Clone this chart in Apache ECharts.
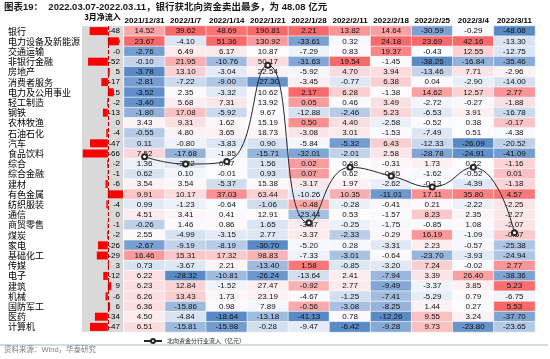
<!DOCTYPE html>
<html><head><meta charset="utf-8">
<script src="https://cdn.jsdelivr.net/npm/echarts@6/dist/echarts.min.js"></script>
<style>html,body{margin:0;padding:0;background:#fff}#c{width:550px;height:359px}</style>
</head><body><div id="c"></div>
<script>
var rows = ['银行','电力设备及新能源','交通运输','非银行金融','房地产','消费者服务','电力及公用事业','轻工制造','钢铁','农林牧渔','石油石化','汽车','食品饮料','综合','综合金融','建材','有色金属','纺织服装','通信','商贸零售','煤炭','家电','基础化工','传媒','电子','建筑','机械','国防军工','医药','计算机'];
var dates = ['2021/12/31','2022/1/7','2022/1/14','2022/1/21','2022/1/28','2022/2/11','2022/2/18','2022/2/25','2022/3/4','2022/3/11'];
var march = [-48, 29, -0.2, -52, 5, -17, 15, -2, -13, 0.2, -4, -47, -66, -2, -1, -6, 40, -4, 0.1, -1, -2, -26, -29, 3, -12, 9, -6, 6, -34, -47];
var w1231 = [14.52, 23.67, -2.76, -0.10, -3.78, -2.81, -3.52, -3.40, -1.80, 3.43, -0.55, 0.11, 7.52, 1.36, 0.62, 3.54, 9.91, 0.99, 4.51, -0.26, 2.55, -2.67, 16.46, 0.73, 6.22, 6.23, 6.26, 6.36, 4.50, 6.51];
var w0107 = [39.62, -4.10, 6.49, 21.95, 13.10, -7.22, 2.35, 5.68, 17.08, 9.31, 4.80, -0.80, -17.68, -3.22, 0.10, 3.54, 10.17, -1.23, 3.41, 1.46, -4.99, -9.19, 15.31, -3.67, -28.32, 12.84, 13.43, -15.86, -4.84, -15.81];
var w0114 = [48.69, 51.36, 6.17, -10.76, -3.04, -9.00, -3.32, 7.31, -5.92, 1.62, 3.65, -3.83, -1.85, 0.47, -0.01, -5.37, 37.03, -0.64, 0.41, 0.86, -3.15, -8.19, 17.32, 2.21, -10.81, -1.52, 1.73, 0.98, -18.64, -15.98];
var w0121 = [190.81, 130.92, 10.87, 50.17, 22.54, -27.30, 10.62, 13.92, 9.67, 15.19, 18.73, 0.90, -15.71, 1.56, 0.93, 15.38, 63.44, -1.06, 12.91, 1.65, 2.77, -30.70, 98.83, -13.40, -26.24, 27.47, 23.19, 7.89, -13.18, -0.28];
var w0128 = [2.21, -33.61, -7.29, -31.63, -5.92, -3.45, 2.17, 0.05, -12.88, 0.50, -3.08, -5.84, -32.01, 0.02, 0.07, -3.17, -10.26, -0.48, -23.44, -3.37, -3.37, -5.20, -7.33, 1.58, -13.64, -0.92, -4.67, -0.56, -41.13, -9.47];
var w0211 = [13.82, 0.32, 0.83, 19.54, 4.70, -0.77, 6.28, 0.46, -2.46, 4.40, 3.01, -5.32, -2.01, 0.68, 0.62, 1.97, 10.35, -0.28, 0.53, -0.25, -2.33, 0.28, -3.01, -0.85, 2.41, 2.77, -1.25, -3.08, 0.78, -6.42];
var w0218 = [14.64, 24.18, 19.37, -1.45, 3.94, 6.38, -1.38, 3.49, 5.23, -2.58, -1.53, 6.43, 2.58, -0.31, -0.65, -2.62, -11.01, -0.41, -1.57, -1.75, -0.29, -3.31, -0.64, -3.20, -7.94, -9.49, -7.41, -8.25, -12.26, -9.28];
var w0225 = [-30.59, 23.69, -0.43, -38.26, -13.46, 0.04, 14.62, -2.72, -6.53, -0.52, -7.49, -12.33, -28.78, 1.73, -1.62, -0.13, 17.11, 0.21, 8.23, -0.85, 16.19, 2.23, -23.70, 7.24, 3.39, -3.37, -5.29, 1.44, 9.55, 9.73];
var w0304 = [-0.29, 42.16, 12.55, -16.84, 7.71, -2.90, 12.57, -0.27, 3.91, 0.38, 0.51, -26.09, -24.91, 0.72, -0.52, -4.39, 35.80, -2.22, 2.35, 1.08, -1.09, -0.57, -3.93, -0.02, 26.40, 3.85, 0.79, 0.27, 3.24, -23.80];
var w0311 = [-48.08, -13.30, -12.75, -35.46, -2.96, -14.00, 2.77, -1.88, -16.78, -0.17, -4.38, -20.52, -41.09, -1.16, 0.01, -1.18, 4.57, -2.25, -2.27, -2.07, -0.57, -25.38, -24.94, 2.77, -38.36, 5.23, -6.75, 5.53, -37.70, -23.65];
var flowTotal = [104, 64, 78, 602, -256, 46, -1, -61, 46, -310];
var lineName = '北向资金分行业流入（亿元）';

var cols = [w1231, w0107, w0114, w0121, w0128, w0211, w0218, w0225, w0304, w0311];
var heat = [];
cols.forEach(function (col, ci) {
  var s = col.slice().sort(function (a, b) { return a - b; });
  var n = s.length, mn = s[0], mx = s[n - 1];
  var med = n % 2 ? s[(n - 1) / 2] : (s[n / 2 - 1] + s[n / 2]) / 2;
  col.forEach(function (v, ri) {
    var t = v >= med ? (mx === med ? 0 : (v - med) / (mx - med)) : -(med - v) / (med - mn);
    heat.push([ci, ri, v, t]);
  });
});
function fmtInt(v) { var r = Math.round(v); return (r === 0 && v < 0) ? '-0' : String(r); }

var LAT = "'Liberation Sans', 'Noto Sans CJK SC', sans-serif";
var CJK = "'Noto Sans CJK SC', sans-serif";
var chart = echarts.init(document.getElementById('c'), null, { renderer: 'canvas' });
chart.setOption({
  animation: false,
  backgroundColor: '#fff',
  title: {
    text: '图表19：  2022.03.07-2022.03.11，银行获北向资金卖出最多，为 48.08 亿元',
    left: 4, top: 3, padding: 0,
    textStyle: { fontSize: 9.5, fontWeight: 'bold', color: '#1a1a1a', fontFamily: LAT }
  },
  legend: {
    data: [lineName], left: 138, top: 333, itemWidth: 18, itemHeight: 5,
    textStyle: { fontSize: 6, color: '#222', fontFamily: CJK }
  },
  grid: [
    { left: 82, right: 427, top: 26, bottom: 27, show: true, backgroundColor: '#D9D9D9', borderWidth: 0 },
    { left: 124, right: 15, top: 26, bottom: 27 }
  ],
  xAxis: [
    { gridIndex: 0, type: 'value', min: -68, max: 40, position: 'top',
      axisLabel: { show: false }, axisLine: { show: false }, axisTick: { show: false }, splitLine: { show: false },
      name: '3月净流入', nameLocation: 'middle', nameGap: 5.5,
      nameTextStyle: { fontSize: 8, fontWeight: 'bold', color: '#000', fontFamily: CJK } },
    { gridIndex: 1, type: 'category', data: dates, position: 'top',
      axisLine: { show: false }, axisTick: { show: false }, splitLine: { show: false },
      axisLabel: { interval: 0, margin: 1.5, fontSize: 8, fontWeight: 'bold', color: '#000', fontFamily: LAT } }
  ],
  yAxis: [
    { gridIndex: 0, type: 'category', data: rows, inverse: true, position: 'left',
      axisLine: { show: false }, axisTick: { show: false },
      axisLabel: { interval: 0, align: 'left', margin: 74, fontSize: 9, color: '#000', fontFamily: CJK } },
    { gridIndex: 0, type: 'category', data: rows, inverse: true, position: 'right',
      axisLine: { show: false }, axisTick: { show: false },
      axisLabel: { interval: 0, inside: true, margin: 3, fontSize: 8, color: '#000', fontFamily: LAT,
        formatter: function (v, i) { return fmtInt(march[i]); } } },
    { gridIndex: 1, type: 'category', data: rows, inverse: true, show: false },
    { gridIndex: 1, type: 'value', min: -850, max: 815, show: false, splitLine: { show: false } }
  ],
  visualMap: {
    type: 'continuous', show: false, dimension: 3, min: -1, max: 1, seriesIndex: 1,
    inRange: { color: ['#5A8AC6', '#FCFCFF', '#F8696B'] }
  },
  series: [
    { type: 'bar', xAxisIndex: 0, yAxisIndex: 0, data: march, barWidth: 8,
      itemStyle: { color: '#FF0000' }, silent: true,
      markLine: { silent: true, symbol: 'none', label: { show: false },
        lineStyle: { color: '#C00000', type: 'dashed', width: 1 }, data: [{ xAxis: 0 }] } },
    { type: 'heatmap', xAxisIndex: 1, yAxisIndex: 2, data: heat, silent: true,
      itemStyle: { borderColor: '#fff', borderWidth: 0.6 },
      label: { show: true, fontSize: 8, color: '#111', fontFamily: LAT,
        formatter: function (p) { return p.data[2].toFixed(2); } } },
    { type: 'line', name: lineName, xAxisIndex: 1, yAxisIndex: 3, data: flowTotal, smooth: 0.5,
      symbol: 'emptyCircle', symbolSize: 5, z: 10,
      lineStyle: { color: '#262626', width: 1 }, itemStyle: { color: '#262626', borderWidth: 1 } }
  ],
  graphic: [
    { type: 'line', shape: { x1: 0, y1: 345, x2: 548, y2: 345 }, style: { stroke: '#A9B8C8', lineWidth: 1 } },
    { type: 'text', left: 4, top: 346, style: { text: '资料来源：Wind，华泰研究', fontSize: 7.5, fill: '#7F7F7F', fontFamily: LAT } }
  ]
});
</script></body></html>
